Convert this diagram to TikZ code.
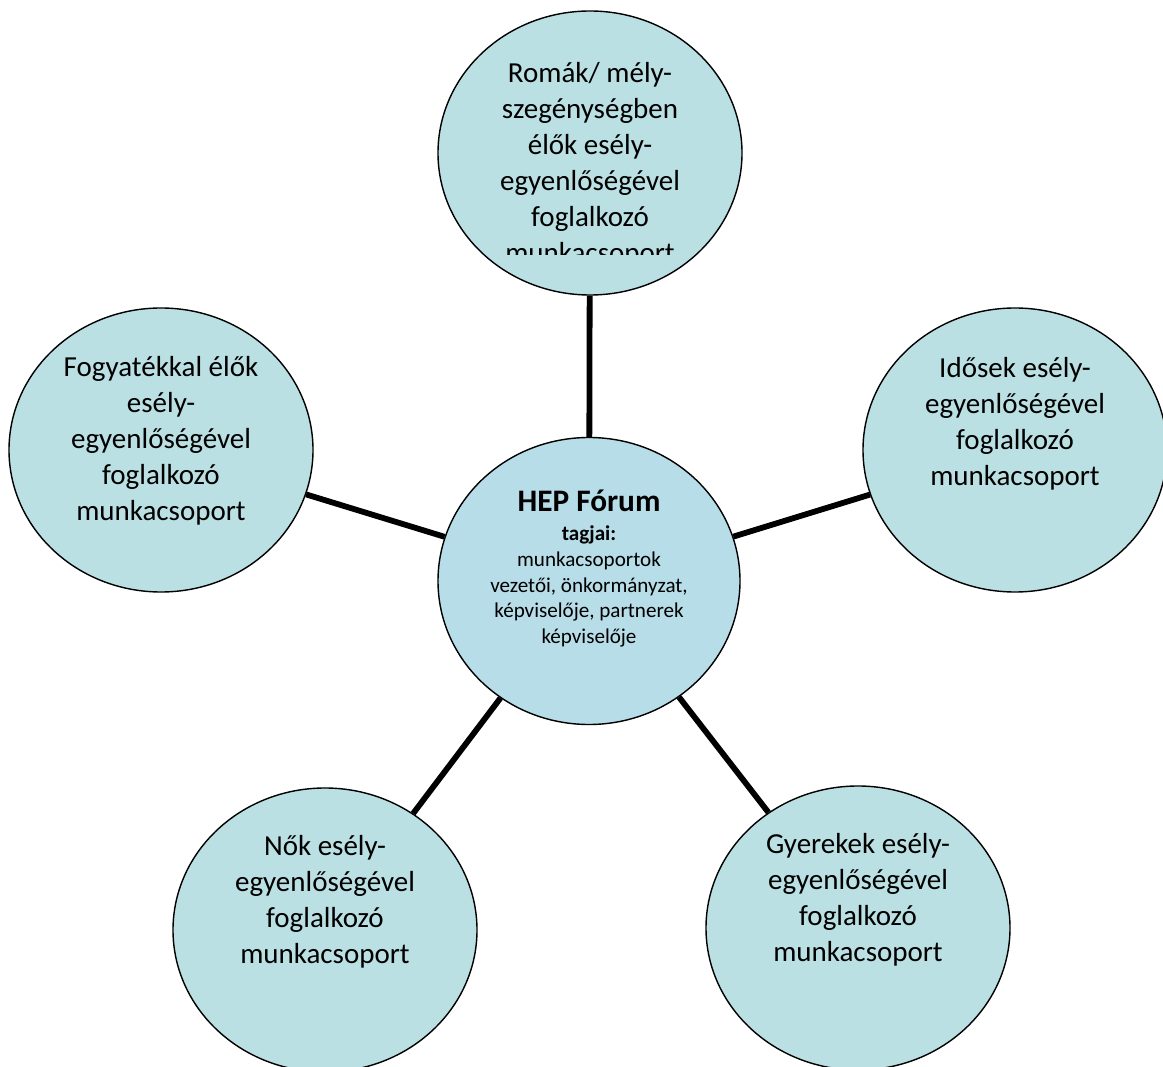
\documentclass[tikz,border=0pt]{standalone}
\usepackage{fontspec}
\setmainfont{Carlito}
\usetikzlibrary{shapes.geometric}
\definecolor{hepFill}{HTML}{BBE0E3}
\definecolor{hepCore}{HTML}{B7DDE8}

\begin{document}
\begin{tikzpicture}[
    bubble/.style={draw, ellipse, line width=0.8pt, fill=hepFill, minimum width=6.08cm,
                   minimum height=5.68cm, inner sep=0pt},
    corebubble/.style={bubble, fill=hepCore, minimum width=6.04cm, minimum height=5.74cm},
    bubbletext/.style={anchor=base, align=flush center, text width=4.8cm, inner sep=0pt,
                       font=\fontsize{16.5}{20.5}\selectfont},
    coretext/.style={anchor=base, align=flush center, text width=4.8cm, inner sep=0pt,
                     font=\fontsize{12}{14.6}\selectfont},
    spoke/.style={line width=3.3pt, black},
]
\useasboundingbox (0,0) rectangle (23.26,21.32);

% --- Centre: the forum ---
\node[corebubble] (forum) at (11.78,9.70) {};
\node[coretext] (forumtxt) at ([yshift=-1.50cm]forum.north)
  {{\fontsize{17.8}{20}\selectfont\bfseries HEP Fórum}\\[1.9pt]
   \textbf{tagjai:}\\ munkacsoportok\\ vezetői, önkormányzat,\\ képviselője, partnerek\\ képviselője};

% --- Working groups round it ---
\node[bubble] (romak) at (11.80,18.26) {};
\node[bubble] (fogy) at (3.22,12.32) {};
\node[bubble] (idos) at (20.30,12.32) {};
\node[bubble] (nok) at (6.50,2.72) {};
\node[bubble] (gyer) at (17.16,2.76) {};

% top group: its text runs out of the box and is cut off
\begin{scope}
  \clip (romak.north -| romak.west) rectangle ([yshift=-2.04cm]romak.east);
  \node[bubbletext] (romaktxt) at ([yshift=-1.44cm]romak.north)
    {Romák/ mély-\\ szegénységben\\ élők esély-\\ egyenlőségével\\ foglalkozó\\ munkacsoport};
\end{scope}

\node[bubbletext] (fogytxt) at ([yshift=-1.38cm]fogy.north)
  {Fogyatékkal élők\\ esély-\\ egyenlőségével\\ foglalkozó\\ munkacsoport};
\node[bubbletext] (idostxt) at ([yshift=-1.40cm]idos.north)
  {Idősek esély-\\ egyenlőségével\\ foglalkozó\\ munkacsoport};
\node[bubbletext] (noktxt) at ([yshift=-1.36cm]nok.north)
  {Nők esély-\\ egyenlőségével\\ foglalkozó\\ munkacsoport};
\node[bubbletext] (gyertxt) at ([yshift=-1.36cm]gyer.north)
  {Gyerekek esély-\\ egyenlőségével\\ foglalkozó\\ munkacsoport};

% --- Spokes ---
\draw[spoke] (forum) -- (romak);
\draw[spoke] (forum) -- (fogy);
\draw[spoke] (forum) -- (idos);
\draw[spoke] (forum) -- (nok);
\draw[spoke] (forum) -- (gyer);

\end{tikzpicture}
\end{document}
